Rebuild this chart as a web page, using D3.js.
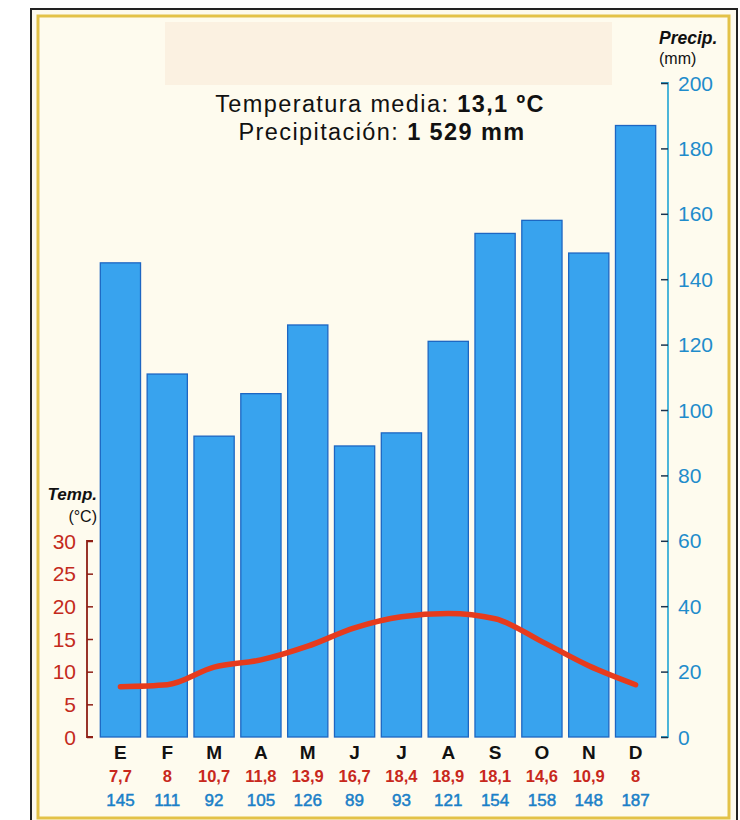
<!DOCTYPE html>
<html><head><meta charset="utf-8">
<script src="https://cdn.jsdelivr.net/npm/d3@7"></script>
<style>body{margin:0;background:#fff;}svg{display:block;font-family:"Liberation Sans",Arial,sans-serif;}</style>
</head><body>
<svg id="c" width="740" height="820"></svg>
<script>
const months = ["E","F","M","A","M","J","J","A","S","O","N","D"];
const temps = [7.7, 8, 10.7, 11.8, 13.9, 16.7, 18.4, 18.9, 18.1, 14.6, 10.9, 8];
const tempLabels = ["7,7","8","10,7","11,8","13,9","16,7","18,4","18,9","18,1","14,6","10,9","8"];
const precip = [145, 111, 92, 105, 126, 89, 93, 121, 154, 158, 148, 187];
const precipLabels = ["145","111","92","105","126","89","93","121","154","158","148","187"];
const tempTicks = [0,5,10,15,20,25,30];
const precipTicks = [0,20,40,60,80,100,120,140,160,180,200];

const svg = d3.select("#c");
// frame
svg.append("rect").attr("x",31).attr("y",9).attr("width",706).attr("height",830)
  .attr("fill","#fdfaee").attr("stroke","#222").attr("stroke-width",2);
svg.append("rect").attr("x",38).attr("y",16).attr("width",691).attr("height",802)
  .attr("fill","#fefbee").attr("stroke","#e3c248").attr("stroke-width",3);
svg.append("rect").attr("x",165).attr("y",22).attr("width",447).attr("height",63).attr("fill","#fbf1e1");

const idx = months.map((m,i)=>i);
const x = d3.scaleBand().domain(idx).range([97,659]).paddingInner(0.12).paddingOuter(0.06);
const yP = d3.scaleLinear().domain([0,200]).range([737,83]);
const yT = d3.scaleLinear().domain([0,30]).range([737,541]);

// bars
svg.append("g").selectAll("rect").data(precip).join("rect")
  .attr("x",(d,i)=>x(i)+0.5).attr("y",d=>yP(d)).attr("width",x.bandwidth()-1).attr("height",d=>yP(0)-yP(d))
  .attr("fill","#38a3ee").attr("stroke","#1d66c2").attr("stroke-width",1.3);

// temp line
const line = d3.line().x((d,i)=>x(i)+x.bandwidth()/2).y(d=>yT(d)).curve(d3.curveMonotoneX);
svg.append("path").datum(temps).attr("d",line).attr("fill","none")
  .attr("stroke","#e63b1d").attr("stroke-width",5.5).attr("stroke-linecap","round");

// temp axis (left)
const gT = svg.append("g").attr("transform","translate(87,0)")
  .call(d3.axisRight(yT).tickValues(tempTicks).tickSize(6).tickFormat(""));
gT.select(".domain").attr("stroke","#8e1e14").attr("stroke-width",1.8).attr("d","M6,541H0V737H6");
gT.selectAll(".tick line").attr("stroke","#8e1e14").attr("stroke-width",1.5);
svg.append("g").selectAll("text").data(tempTicks).join("text")
  .attr("x",76).attr("y",d=>yT(d)).attr("dy","0.36em").attr("text-anchor","end")
  .attr("fill","#c42a1c").attr("font-size",21).text(d=>d);

// precip axis (right)
const gP = svg.append("g").attr("transform","translate(668,0)")
  .call(d3.axisLeft(yP).tickValues(precipTicks).tickSize(7).tickFormat(""));
gP.select(".domain").attr("stroke","#3aaed6").attr("stroke-width",1.8).attr("d","M-7,83H0V737H-7");
gP.selectAll(".tick line").attr("stroke","#1b3550").attr("stroke-width",1.5);
svg.append("g").selectAll("text").data(precipTicks).join("text")
  .attr("x",678).attr("y",d=>yP(d)).attr("dy","0.36em").attr("text-anchor","start")
  .attr("fill","#1f8ccb").attr("font-size",21).text(d=>d);

// month labels and values
const cx = i => x(i)+x.bandwidth()/2;
svg.append("g").selectAll("text").data(months).join("text")
  .attr("x",(d,i)=>cx(i)).attr("y",759).attr("text-anchor","middle").attr("font-weight","bold")
  .attr("font-size",19).attr("fill","#111").text(d=>d);
svg.append("g").selectAll("text").data(tempLabels).join("text")
  .attr("x",(d,i)=>cx(i)).attr("y",782).attr("text-anchor","middle").attr("font-weight","bold")
  .attr("font-size",16.5).attr("fill","#c8281c").text(d=>d);
svg.append("g").selectAll("text").data(precipLabels).join("text")
  .attr("x",(d,i)=>cx(i)).attr("y",806).attr("text-anchor","middle")
  .attr("font-size",17).attr("fill","#1a80c8").attr("stroke","#1a80c8").attr("stroke-width",0.5).text(d=>d);

// titles
const t1 = svg.append("text").attr("x",380).attr("y",112).attr("text-anchor","middle").attr("font-size",23.5).attr("letter-spacing",1.4).attr("fill","#111");
t1.append("tspan").text("Temperatura media: ");
t1.append("tspan").attr("font-weight","bold").text("13,1 ºC");
const t2 = svg.append("text").attr("x",382).attr("y",140).attr("text-anchor","middle").attr("font-size",23.5).attr("letter-spacing",1.4).attr("fill","#111");
t2.append("tspan").text("Precipitación: ");
t2.append("tspan").attr("font-weight","bold").text("1 529 mm");

// axis titles
svg.append("text").attr("x",659).attr("y",44).attr("font-size",17.5).attr("font-weight","bold").attr("font-style","italic").attr("fill","#111").text("Precip.");
svg.append("text").attr("x",659).attr("y",64).attr("font-size",16).attr("fill","#111").text("(mm)");
svg.append("text").attr("x",97).attr("y",500).attr("text-anchor","end").attr("font-size",17).attr("font-weight","bold").attr("font-style","italic").attr("fill","#111").text("Temp.");
svg.append("text").attr("x",97).attr("y",522).attr("text-anchor","end").attr("font-size",16).attr("fill","#111").text("(°C)");
</script>
</body></html>
